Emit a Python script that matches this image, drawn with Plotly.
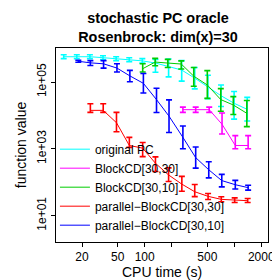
import plotly.graph_objects as go

# ---- data ----
t_orig = [12.5, 17.5, 24.5, 34.3, 48.1, 67.3, 94.2, 132, 185, 259, 362, 508, 711, 995, 1394]
f_orig = [5.74e5, 5.74e5, 5.74e5, 5.37e5, 5.02e5, 4.70e5, 4.31e5, 3.71e5, 2.93e5, 2.29e5, 1.31e5, 7.15e4, 3.90e4, 2.32e4, 1.52e4]
lo_orig = [5.02e5, 5.02e5, 5.02e5, 4.70e5, 4.39e5, 4.10e5, 3.71e5, 1.96e5, 1.43e5, 1.07e5, 6.25e4, 3.19e4, 1.86e4, 7.76e3, 6.79e3]
hi_orig = [6.58e5, 6.58e5, 6.58e5, 6.14e5, 5.74e5, 5.37e5, 5.02e5, 4.79e5, 4.92e5, 4.39e5, 2.74e5, 1.60e5, 8.17e4, 5.21e4, 3.48e4]

t_b3030 = [267, 371, 525, 730, 1026, 1427]
f_b3030 = [1.49e4, 1.49e4, 1.49e4, 5.44e3, 1.26e3, 1.26e3]
lo_b3030 = [1.24e4, 1.24e4, 1.24e4, 2.78e3, 1.01e3, 1.01e3]
hi_b3030 = [1.78e4, 1.78e4, 1.78e4, 1.19e4, 2.48e3, 2.48e3]

t_b3010 = [95.1, 131, 181, 256, 353, 500, 707, 975, 1380]
f_b3010 = [2.51e5, 3.97e5, 3.71e5, 3.47e5, 1.50e5, 8.17e4, 2.98e4, 2.06e4, 1.16e4]
lo_b3010 = [2.00e5, 3.07e5, 2.74e5, 2.45e5, 7.48e4, 3.25e4, 1.33e4, 1.07e4, 4.63e3]
hi_b3010 = [3.52e5, 5.12e5, 4.79e5, 4.31e5, 2.74e5, 2.20e5, 6.37e4, 3.65e4, 2.79e4]

t_p3030 = [24.8, 34.5, 48.5, 67.5, 95, 132, 185, 260, 362, 510, 716, 1010, 1410]
f_p3030 = [1.42e4, 1.42e4, 6.06e3, 1.26e3, 1.05e3, 370, 165, 87.7, 51.9, 37.8, 30.7, 29.3, 28.0]
lo_p3030 = [1.24e4, 1.24e4, 3.24e3, 1.11e3, 583, 210, 105, 53.7, 37.1, 30.3, 26.0, 24.8, 24.8]
hi_p3030 = [2.23e4, 2.23e4, 1.24e4, 2.21e3, 1.55e3, 576, 270, 150, 85.9, 46.0, 36.6, 34.0, 32.4]

t_p3010 = [18.2, 24.8, 34.8, 49.1, 68.4, 96.8, 135.6, 187, 267, 371, 519, 725, 1026, 1427]
f_p3010 = [4.19e5, 3.76e5, 3.52e5, 2.62e5, 1.53e5, 9.16e4, 2.98e4, 9.50e3, 2.21e3, 546, 236, 112, 84.3, 68.9]
lo_p3010 = [3.92e5, 3.13e5, 2.62e5, 2.00e5, 1.02e5, 4.68e4, 1.22e4, 3.10e3, 1.01e3, 264, 135, 72.6, 62.7, 58.2]
hi_p3010 = [4.48e5, 4.39e5, 4.39e5, 3.52e5, 2.24e5, 1.80e5, 6.55e4, 2.92e4, 4.85e3, 1.13e3, 412, 172, 114, 81.5]

x_tickvals = [20, 50, 100, 200, 500, 1000, 2000]
x_ticktext = ["20", "50", "100", "", "500", "", "2000"]
y_tickvals = [10, 1000, 100000]
y_ticktext = ["1e+01", "1e+03", "1e+05"]

series = [
    ("original PC", t_orig, f_orig, lo_orig, hi_orig, "#00FFFF"),
    ("BlockCD[30,30]", t_b3030, f_b3030, lo_b3030, hi_b3030, "#FF00FF"),
    ("BlockCD[30,10]", t_b3010, f_b3010, lo_b3010, hi_b3010, "#00CD00"),
    ("parallel\u2212BlockCD[30,30]", t_p3030, f_p3030, lo_p3030, hi_p3030, "#FF0000"),
    ("parallel\u2212BlockCD[30,10]", t_p3010, f_p3010, lo_p3010, hi_p3010, "#0000FF"),
]

FONT = "Liberation Sans, Arial, Helvetica, sans-serif"

fig = go.Figure()
for name, t, f, lo, hi, col in series:
    fig.add_trace(go.Scatter(
        x=t, y=f, name=name, mode="lines",
        line=dict(color=col, width=1),
        error_y=dict(type="data", symmetric=False,
                     array=[h - v for h, v in zip(hi, f)],
                     arrayminus=[v - l for v, l in zip(f, lo)],
                     color=col, thickness=1.6, width=3),
    ))

fig.update_layout(
    width=280, height=280,
    margin=dict(l=40, r=20, t=40, b=41),
    paper_bgcolor="white", plot_bgcolor="white",
    font=dict(family=FONT, size=12, color="black"),
    title=dict(text="<b>stochastic PC oracle<br>Rosenbrock: dim(x)=30</b>",
               x=150 / 280, xanchor="center", xref="container",
               y=1 - 15 / 280, yanchor="top", yref="container",
               font=dict(size=14.4, family=FONT, color="black")),
    showlegend=True,
    legend=dict(x=-0.005, y=0.012, xanchor="left", yanchor="bottom",
                bgcolor="rgba(0,0,0,0)", borderwidth=0,
                font=dict(size=12, family=FONT), itemwidth=30,
                tracegroupgap=0),
    xaxis=dict(type="log", range=[1.011, 3.376],
               tickvals=x_tickvals, ticktext=x_ticktext,
               ticks="outside", ticklen=4, tickcolor="black",
               showline=True, mirror=True, linecolor="black", linewidth=1,
               showgrid=False, zeroline=False,
               title=dict(text="CPU time (s)", standoff=2)),
    yaxis=dict(type="log", range=[0.21, 6.02],
               tickvals=y_tickvals, ticktext=y_ticktext, tickangle=-90,
               ticks="outside", ticklen=4, tickcolor="black",
               showline=True, mirror=True, linecolor="black", linewidth=1,
               showgrid=False, zeroline=False,
               title=dict(text="function value", standoff=5)),
)

fig.write_html("out.html")
